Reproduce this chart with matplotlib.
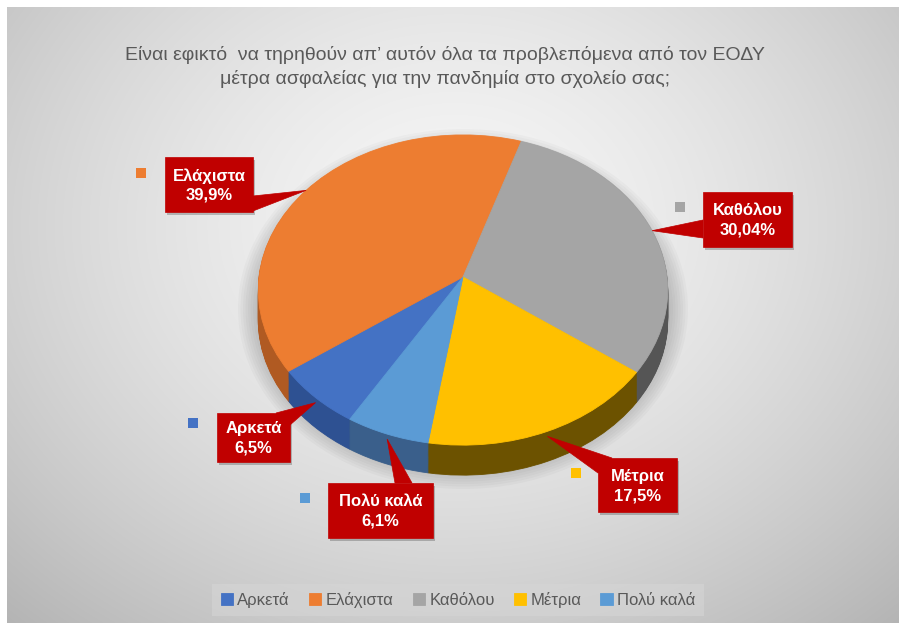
import numpy as np
import matplotlib
matplotlib.use('Agg')
import matplotlib.pyplot as plt
from matplotlib.transforms import Transform
from matplotlib.patches import Rectangle, Polygon, Ellipse

# ---------------- data ----------------
categories = ['Αρκετά', 'Ελάχιστα', 'Καθόλου', 'Μέτρια', 'Πολύ καλά']
values = [6.5, 39.9, 30.04, 17.5, 6.1]
top_colors = ['#4472C4', '#ED7D31', '#A5A5A5', '#FFC000', '#5B9BD5']
side_colors = ['#2E5192', '#B05A22', '#555555', '#6C5200', '#3A5F8B']
title = ('Είναι εφικτό  να τηρηθούν απ’ αυτόν όλα τα προβλεπόμενα από τον ΕΟΔΥ\n'
         'μέτρα ασφαλείας για την πανδημία στο σχολείο σας;')

# ---------------- layout ----------------
W, H = 899, 623
cx, cy = 463, 277          # pie vertex (pixels, y down)
rx, ry = 204, 154          # pie radii (pixels)
k = 0.084                  # perspective strength
depth = 30                 # side depth (pixels)
start_angle = 239

# label boxes: (x0, y0, x1, y1), pointer base points, marker square (x, y)
boxes = {
    'Ελάχιστα': ((165, 157, 253, 212), [(253, 196), (253, 211)], (136, 168)),
    'Καθόλου': ((703, 192, 792, 247), [(703, 220), (703, 238)], (675, 202)),
    'Αρκετά': ((217, 413, 290, 462), [(276, 413), (290, 425)], (188, 418)),
    'Πολύ καλά': ((328, 483, 433, 538), [(395, 483), (412, 483)], (300, 493)),
    'Μέτρια': ((598, 458, 677, 512), [(598, 473), (612, 458)], (571, 468)),
}

FONT = ['Liberation Sans', 'DejaVu Sans']
plt.rcParams['font.family'] = FONT


class Persp(Transform):
    input_dims = 2
    output_dims = 2
    is_separable = False
    has_inverse = False

    def __init__(self, k, dy=0.0):
        super().__init__()
        self.k = k
        self.dy = dy

    def transform_non_affine(self, v):
        v = np.asarray(v, float).reshape(-1, 2)
        w = 1 + self.k * v[:, 1]
        return np.column_stack([v[:, 0] / w, v[:, 1] / w + self.dy])


fig = plt.figure(figsize=(W / 100, H / 100), dpi=100)
fig.patch.set_facecolor('white')

# background axes
bg = fig.add_axes([0, 0, 1, 1])
bg.set_zorder(0)
yy, xx = np.mgrid[0:H, 0:W]
r = np.sqrt(((xx - 450) / 560) ** 2 + ((yy - 220) / 460) ** 2)
g = np.clip(0.965 - 0.2 * np.clip(r, 0, 1.3) ** 1.5, 0, 1)
bg.imshow(np.dstack([g, g, g]), extent=(7, W, H, 7), interpolation='bilinear', zorder=0)
for i in range(9):
    bg.add_patch(Ellipse((cx, cy + 32), 2 * (rx + 1 + 2.5 * i), 2 * (ry + 6 + 2.5 * i),
                         facecolor='black', alpha=0.025, lw=0, zorder=1))
bg.set_aspect('auto')
bg.set_xlim(0, W)
bg.set_ylim(H, 0)
bg.axis('off')

# pie axes
pa = fig.add_axes([0, 0, 1, 1])
pa.set_zorder(1)
pa.patch.set_alpha(0)
depth_u = depth / ry
N = 32
for i in range(N):
    dy = -depth_u * (1 - i / N)
    wedges, _ = pa.pie(values, colors=side_colors, startangle=start_angle,
                       counterclock=False, radius=1)
    for w_ in wedges:
        w_.set_edgecolor(w_.get_facecolor())
        w_.set_linewidth(0.6)
        w_.set_transform(Persp(k, dy) + pa.transData)
top_wedges, _ = pa.pie(values, colors=top_colors, startangle=start_angle,
                       counterclock=False, radius=1)
for w_ in top_wedges:
    w_.set_edgecolor(w_.get_facecolor())
    w_.set_linewidth(0.6)
    w_.set_transform(Persp(k, 0.0) + pa.transData)
pa.set_aspect('auto')
pa.set_xlim(-cx / rx, (W - cx) / rx)
pa.set_ylim(-(H - cy) / ry, cy / ry)
pa.axis('off')

# overlay axes (labels)
ov = fig.add_axes([0, 0, 1, 1])
ov.set_zorder(2)
ov.patch.set_alpha(0)
ov.set_xlim(0, W)
ov.set_ylim(H, 0)
ov.axis('off')

ov.text(445, 67, title, ha='center', va='center', fontsize=14, color='#595959',
        linespacing=1.5, family=FONT)

total = sum(values)
theta = start_angle
for cat, val, col in zip(categories, values, top_colors):
    span = val / total * 360
    mid = np.deg2rad(theta - span / 2)
    theta -= span
    u, v = np.cos(mid), np.sin(mid)
    tdy = -5 / ry if v < 0 else 0.0
    disp = (Persp(k, tdy) + pa.transData).transform([[u, v]])
    tip = ov.transData.inverted().transform(disp)[0]
    (x0, y0, x1, y1), base, (mx, my) = boxes[cat]
    # shadow
    ov.add_patch(Rectangle((x0 + 2, y0 + 3), x1 - x0, y1 - y0, facecolor='black',
                           alpha=0.22, lw=0, zorder=3))
    ov.add_patch(Polygon([base[0], base[1], tuple(tip)], closed=True,
                         facecolor='#C00000', edgecolor='#C00000', lw=0.5, zorder=4))
    ov.add_patch(Rectangle((x0, y0), x1 - x0, y1 - y0, facecolor='#C00000',
                           edgecolor='#C00000', lw=0.5, zorder=5))
    pct = f'{val:g}'.replace('.', ',') + '%'
    ov.text((x0 + x1) / 2, (y0 + y1) / 2 + 1, f'{cat}\n{pct}', ha='center', va='center',
            color='white', fontweight='bold', fontsize=12, linespacing=1.35,
            family=FONT, zorder=6)
    ov.add_patch(Rectangle((mx, my), 10, 10, facecolor=col, lw=0, zorder=6))

leg = pa.legend(top_wedges, categories, loc='center', bbox_to_anchor=(458 / W, 1 - 600 / H),
                bbox_transform=fig.transFigure, ncol=5, fontsize=12, frameon=True,
                fancybox=False, handlelength=0.75, handleheight=0.75, handletextpad=0.25,
                columnspacing=1.15, borderpad=0.5, labelcolor='#595959')
leg.get_frame().set_facecolor('#d6d6d6')
leg.get_frame().set_edgecolor('none')
leg.get_frame().set_alpha(0.55)

fig.savefig('out.png', dpi=100, facecolor='white')
